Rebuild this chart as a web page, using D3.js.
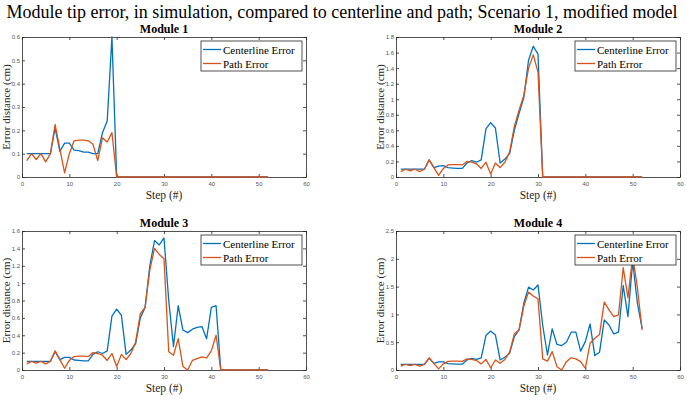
<!DOCTYPE html>
<html>
<head>
<meta charset="utf-8">
<script src="https://cdn.jsdelivr.net/npm/d3@7"></script>
<style>
  body { margin: 0; background: #fff; }
  svg { display: block; font-family: "Liberation Serif", "Times New Roman", serif; }
</style>
</head>
<body>
<svg id="chart" width="687" height="404"></svg>
<script>
// step index (x) shared by all four modules
const steps = [1,2,3,4,5,6,7,8,9,10,11,12,13,14,15,16,17,18,19,20,21,22,23,24,25,26,
  27,28,29,30,31,32,33,34,35,36,37,38,39,40,41,42,43,44,45,46,47,48,49,50,51,52]

// Module 1
const centerline1 = [0.10,0.10,0.10,0.10,0.10,0.10,0.21,0.11,0.145,0.145,0.115,0.113,0.107,0.107,0.10,0.10,0.19,0.24,0.60,0,
  0,0,0,0,0,0,0,0,0,0,0,0,0,0,0,0,0,0,0,0,0,0,0,0,0,0,0,0,0,0,0,0]
const path1 = [0.07,0.10,0.075,0.10,0.065,0.10,0.225,0.12,0.018,0.10,0.155,0.158,0.158,0.155,0.14,0.07,0.168,0.15,0.19,0,
  0,0,0,0,0,0,0,0,0,0,0,0,0,0,0,0,0,0,0,0,0,0,0,0,0,0,0,0,0,0,0,0]

// Module 2
const centerline2 = [0.10,0.10,0.10,0.10,0.10,0.10,0.22,0.12,0.14,0.145,0.12,0.115,0.11,0.11,0.18,0.21,0.19,0.22,0.62,0.70,
  0.63,0.18,0.23,0.30,0.60,0.82,1.02,1.50,1.68,1.58,
  0,0,0,0,0,0,0,0,0,0,0,0,0,0,0,0,0,0,0,0,0,0]
const path2 = [0.07,0.10,0.08,0.10,0.07,0.10,0.22,0.12,0.02,0.11,0.155,0.16,0.16,0.155,0.20,0.19,0.17,0.11,0.19,0.04,
  0.18,0.12,0.19,0.32,0.65,0.86,1.05,1.40,1.57,1.35,
  0,0,0,0,0,0,0,0,0,0,0,0,0,0,0,0,0,0,0,0,0,0]

// Module 3
const centerline3 = [0.10,0.10,0.10,0.10,0.10,0.10,0.21,0.12,0.145,0.145,0.115,0.11,0.105,0.105,0.18,0.21,0.19,0.22,0.62,0.70,
  0.63,0.18,0.23,0.30,0.60,0.72,1.20,1.49,1.44,1.52,0.80,0.27,0.74,0.46,0.43,0.47,0.49,0.50,0.36,0.72,0.74,
  0,0,0,0,0,0,0,0,0,0,0]
const path3 = [0.07,0.10,0.08,0.10,0.07,0.10,0.22,0.12,0.02,0.11,0.155,0.16,0.16,0.155,0.20,0.19,0.17,0.11,0.19,0.04,
  0.18,0.12,0.19,0.32,0.65,0.72,1.15,1.40,1.33,1.28,0.21,0.17,0.36,0.04,0.0,0.11,0.13,0.15,0.14,0.22,0.40,
  0,0,0,0,0,0,0,0,0,0,0]

// Module 4
const centerline4 = [0.10,0.10,0.10,0.10,0.10,0.10,0.21,0.12,0.145,0.145,0.115,0.11,0.105,0.105,0.18,0.21,0.19,0.22,0.62,0.70,
  0.63,0.18,0.23,0.30,0.60,0.72,1.20,1.49,1.44,1.53,0.80,0.27,0.74,0.46,0.44,0.50,0.68,0.68,0.34,0.51,0.83,
  0.26,0.32,0.90,0.81,0.65,0.68,1.52,0.96,1.95,1.20,0.75]
const path4 = [0.07,0.10,0.08,0.10,0.07,0.10,0.22,0.12,0.02,0.11,0.155,0.16,0.16,0.155,0.20,0.19,0.17,0.11,0.19,0.04,
  0.18,0.12,0.19,0.32,0.65,0.72,1.15,1.40,1.33,1.28,0.20,0.16,0.33,0.06,0.0,0.15,0.22,0.20,0.15,0.03,0.48,
  0.57,0.64,1.22,1.08,0.96,0.99,1.84,1.30,2.05,1.48,0.72]

// ticks
const xTicks = [0,10,20,30,40,50,60]
const yTicks1 = [0,0.1,0.2,0.3,0.4,0.5,0.6]
const yTicks2 = [0,0.2,0.4,0.6,0.8,1,1.2,1.4,1.6,1.8]
const yTicks3 = [0,0.2,0.4,0.6,0.8,1,1.2,1.4,1.6]
const yTicks4 = [0,0.5,1,1.5,2,2.5]

const titles = ['Module 1','Module 2','Module 3','Module 4']
const seriesNames = ['Centerline Error','Path Error']
const colors = ['#0072BD','#D95319']
const mainTitle = 'Module tip error, in simulation, compared to centerline and path; Scenario 1, modified model'

const modules = [
  { title: titles[0], c: centerline1, p: path1, yTicks: yTicks1, box: [22, 37, 306, 177] },
  { title: titles[1], c: centerline2, p: path2, yTicks: yTicks2, box: [396, 37, 680, 177] },
  { title: titles[2], c: centerline3, p: path3, yTicks: yTicks3, box: [22, 231, 306, 370] },
  { title: titles[3], c: centerline4, p: path4, yTicks: yTicks4, box: [396, 231, 680, 370] }
]

const svg = d3.select('#chart')
const fmt = d => String(+d.toFixed(2))

svg.append('text')
  .attr('x', 342).attr('y', 18)
  .attr('text-anchor', 'middle')
  .attr('font-size', 18)
  .attr('fill', '#000')
  .text(mainTitle)

modules.forEach(m => {
  const [x0, y0, x1, y1] = m.box
  const x = d3.scaleLinear().domain([0, 60]).range([x0, x1])
  const y = d3.scaleLinear().domain([0, m.yTicks[m.yTicks.length - 1]]).range([y1, y0])
  const g = svg.append('g')

  // axes (ticks inside, MATLAB style)
  const axB = g.append('g').attr('transform', `translate(0,${y1})`)
    .call(d3.axisBottom(x).tickValues(xTicks).tickSizeInner(-3).tickSizeOuter(0).tickPadding(5).tickFormat(fmt))
  const axT = g.append('g').attr('transform', `translate(0,${y0})`)
    .call(d3.axisTop(x).tickValues(xTicks).tickSizeInner(-3).tickSizeOuter(0).tickFormat(''))
  const axL = g.append('g').attr('transform', `translate(${x0},0)`)
    .call(d3.axisLeft(y).tickValues(m.yTicks).tickSizeInner(-3).tickSizeOuter(0).tickPadding(2).tickFormat(fmt))
  const axR = g.append('g').attr('transform', `translate(${x1},0)`)
    .call(d3.axisRight(y).tickValues(m.yTicks).tickSizeInner(-3).tickSizeOuter(0).tickFormat(''))
  ;[axB, axT, axL, axR].forEach(a => {
    a.select('.domain').attr('stroke', '#262626').attr('stroke-width', 0.8)
    a.selectAll('.tick line').attr('stroke', '#262626').attr('stroke-width', 0.8)
    a.selectAll('.tick text').attr('font-family', 'Liberation Sans, Arial, sans-serif')
      .attr('font-size', 6).attr('fill', '#555')
  })

  // lines
  const line = d3.line().x((d, i) => x(steps[i])).y(d => y(d))
  ;[m.c, m.p].forEach((vals, k) => {
    g.append('path').datum(vals)
      .attr('fill', 'none')
      .attr('stroke', colors[k])
      .attr('stroke-width', 1.3)
      .attr('stroke-linejoin', 'round')
      .attr('d', line)
  })

  // title
  g.append('text')
    .attr('x', (x0 + x1) / 2).attr('y', y0 - 4)
    .attr('text-anchor', 'middle')
    .attr('font-size', 12).attr('font-weight', 'bold')
    .text(m.title)

  // axis labels
  g.append('text')
    .attr('x', (x0 + x1) / 2).attr('y', y1 + 22)
    .attr('text-anchor', 'middle')
    .attr('font-size', 11.5)
    .attr('fill', '#262626')
    .text('Step (#)')
  g.append('text')
    .attr('transform', `translate(${x0 - 12.5},${(y0 + y1) / 2}) rotate(-90)`)
    .attr('text-anchor', 'middle')
    .attr('font-size', 11)
    .attr('fill', '#262626')
    .text('Error distance (cm)')

  // legend
  const lw = 101, lh = 30
  const lx = x1 - 4 - lw, ly = y0 + 4
  const lg = g.append('g').attr('transform', `translate(${lx},${ly})`)
  lg.append('rect').attr('width', lw).attr('height', lh)
    .attr('fill', '#fff').attr('stroke', '#262626').attr('stroke-width', 0.8)
  seriesNames.forEach((name, k) => {
    const cy = 8.5 + k * 14
    lg.append('line').attr('x1', 2).attr('x2', 20).attr('y1', cy).attr('y2', cy)
      .attr('stroke', colors[k]).attr('stroke-width', 1.3)
    lg.append('text').attr('x', 22).attr('y', cy + 4)
      .attr('font-size', 11).attr('fill', '#000')
      .text(name)
  })
})
</script>
</body>
</html>
